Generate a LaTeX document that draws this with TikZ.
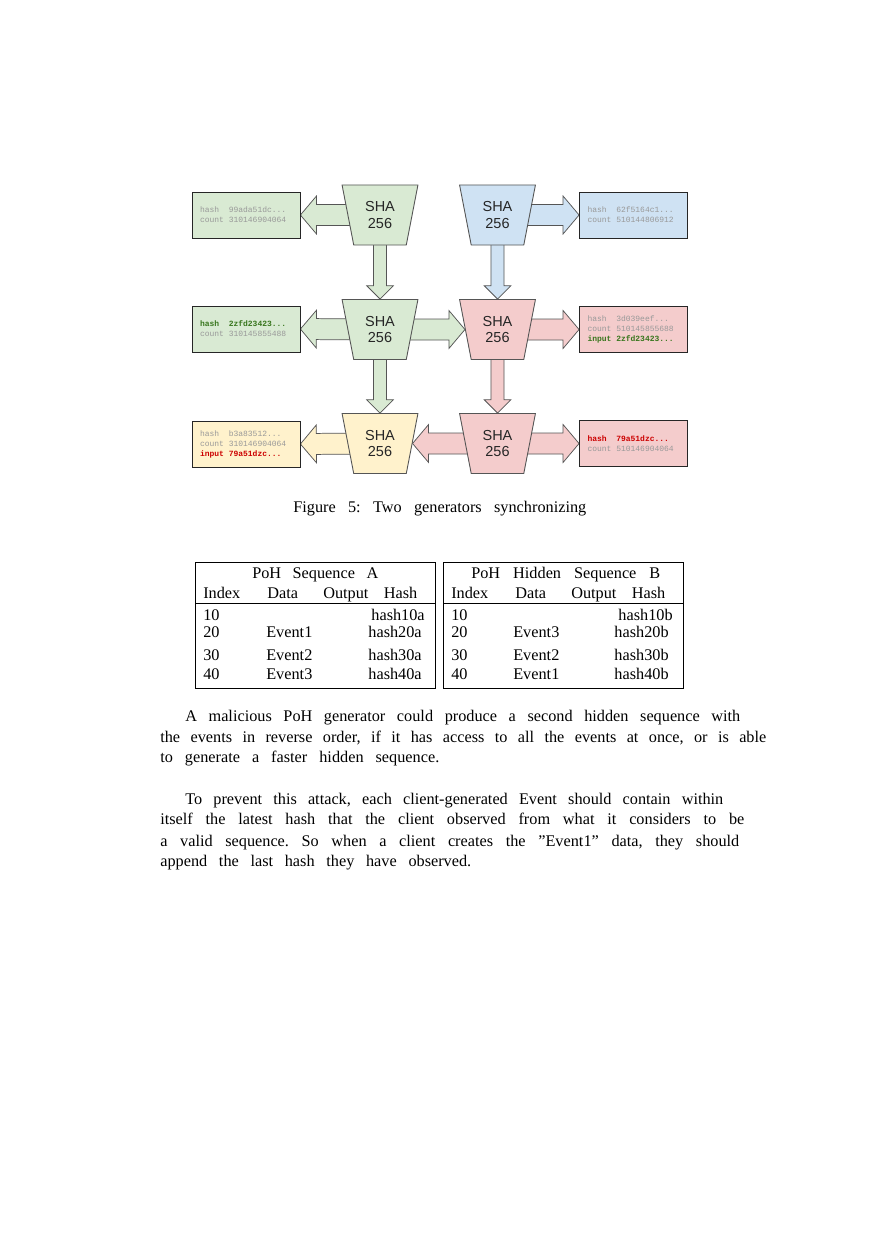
\documentclass[tikz,border=0pt]{standalone}
\usepackage{fontspec}
\setmainfont{Liberation Serif}
\setsansfont{Liberation Sans}
\setmonofont{Liberation Mono}
\usetikzlibrary{shapes.geometric,calc,backgrounds}

\definecolor{shagreen}{HTML}{D9EAD3}
\definecolor{shablue}{HTML}{CFE2F3}
\definecolor{shapink}{HTML}{F4CCCC}
\definecolor{shayellow}{HTML}{FFF2CC}
\definecolor{hashgray}{HTML}{999999}
\definecolor{hashgreen}{HTML}{38761D}
\definecolor{hashred}{HTML}{CC0000}
\definecolor{edgegray}{HTML}{555555}

\frenchspacing
% a line stretched to a width given in pixels
\newcommand{\pxline}[2]{\makebox[\dimexpr0.6761pt*#1\relax][s]{#2}}
\newcommand{\hl}[2]{{\bfseries\color{#1}#2}}
\newcommand{\msp}{\hspace*{0.6em}}
% block arrow: style, from, to, half shaft, half head, head length
\newcommand{\fatarrow}[6]{%
  \draw[#1] let \p1=($(#3)-(#2)$), \n1={atan2(\y1,\x1)}, \n2={veclen(\x1,\y1)} in
    [shift={(#2)}, rotate=\n1]
    (0pt,-#4) -- ({\n2-#6},-#4) -- ({\n2-#6},-#5) -- ({\n2},0pt)
    -- ({\n2-#6},#5) -- ({\n2-#6},#4) -- (0pt,#4) -- cycle;}
\newcommand{\harrow}[3]{\fatarrow{#1}{#2}{#3}{7.1pt}{12.8pt}{10.8pt}}
\newcommand{\varrow}[3]{\fatarrow{#1}{#2}{#3}{4.4pt}{9pt}{9pt}}

\begin{document}
\begin{tikzpicture}[x=0.6761pt,y=-0.6761pt,
  sha/.style={trapezium, trapezium stretches=true, shape border rotate=180,
    trapezium left angle=76, trapezium right angle=76,
    minimum width=51.4pt, minimum height=40.6pt, inner sep=0pt,
    draw=edgegray, line width=0.6pt, align=center, text=black!85,
    font=\sffamily\fontsize{9.8}{11}\selectfont},
  hashbox/.style={rectangle, draw=black!85, line width=0.6pt,
    minimum height=31.1pt, text width=62.2pt, inner xsep=5.4pt, inner ysep=0pt,
    align=left, text=hashgray, font=\ttfamily\fontsize{5.4}{6.8}\selectfont},
  blockarrow/.style={draw=edgegray, line width=0.5pt},
  txt/.style={anchor=base west, inner sep=0pt, font=\fontsize{11}{14}\selectfont},
  txtr/.style={txt, anchor=base east},
  tabline/.style={line width=0.5pt}]
\useasboundingbox (0,0) rectangle (880,1247);

% generators
\node[sha,fill=shagreen] (s1) at (380,215) {SHA\\256};
\node[sha,fill=shagreen] (s2) at (380,329.5) {SHA\\256};
\node[sha,fill=shayellow] (s3) at (380,443.5) {SHA\\256};
\node[sha,fill=shablue] (t1) at (497.5,215) {SHA\\256};
\node[sha,fill=shapink] (t2) at (497.5,329.5) {SHA\\256};
\node[sha,fill=shapink] (t3) at (497.5,443.5) {SHA\\256};

% outputs
\node[hashbox,fill=shagreen] (b1) at (246,215) {hash\msp\msp 99ada51dc...\\count\msp 310146904064};
\node[hashbox,fill=shagreen] (b2) at (246,329) {\hl{hashgreen}{hash\msp\msp 2zfd23423...}\\count\msp 310145855488};
\node[hashbox,fill=shayellow] (b3) at (246,444) {hash\msp\msp b3a83512...\\count\msp 310146904064\\\hl{hashred}{input\msp 79a51dzc...}};
\node[hashbox,fill=shablue] (c1) at (633.5,215) {hash\msp\msp 62f5164c1...\\count\msp 510144806912};
\node[hashbox,fill=shapink] (c2) at (633.5,329.5) {hash\msp\msp 3d039eef...\\count\msp 510145855688\\\hl{hashgreen}{input\msp 2zfd23423...}};
\node[hashbox,fill=shapink] (c3) at (633.5,443.5) {\hl{hashred}{hash\msp\msp 79a51dzc...}\\count\msp 510146904064};

\begin{scope}[on background layer]
\fill[white] (0,0) rectangle (880,1247);
\harrow{blockarrow,fill=shagreen}{s1.center}{b1.east}
\varrow{blockarrow,fill=shagreen}{s1.center}{s2.90}
\harrow{blockarrow,fill=shablue}{t1.center}{c1.west}
\varrow{blockarrow,fill=shablue}{t1.center}{t2.90}
\harrow{blockarrow,fill=shagreen}{s2.center}{b2.east}
\harrow{blockarrow,fill=shagreen}{s2.center}{t2.180}
\varrow{blockarrow,fill=shagreen}{s2.center}{s3.90}
\harrow{blockarrow,fill=shapink}{t2.center}{c2.west}
\varrow{blockarrow,fill=shapink}{t2.center}{t3.90}
\harrow{blockarrow,fill=shayellow}{s3.center}{b3.east}
\harrow{blockarrow,fill=shapink}{t3.center}{s3.0}
\harrow{blockarrow,fill=shapink}{t3.center}{c3.west}
\end{scope}

\node[txt] (cap) at (293,512) {\pxline{293}{Figure 5: Two generators synchronizing}};

% sequence A
\draw[tabline] (195,562) rectangle (435,688);
\draw[tabline] (195,603) -- (435,603);
\node[txt] (ta-title) at (252,578) {\pxline{126}{PoH Sequence A}};
\node[txt] (ta-index) at (203,598) {Index};
\node[txt] (ta-data) at (267,598) {Data};
\node[txt] (ta-out) at (323,598) {\pxline{94}{Output Hash}};
\node[txt] (ta-i1) at (203,620) {10};
\node[txtr] (ta-h1) at (425,620) {hash10a};
\node[txt] (ta-i2) at (203,637) {20};
\node[txt] (ta-d2) at (266,637) {Event1};
\node[txtr] (ta-h2) at (422,637) {hash20a};
\node[txt] (ta-i3) at (203,660) {30};
\node[txt] (ta-d3) at (266,660) {Event2};
\node[txtr] (ta-h3) at (422,660) {hash30a};
\node[txt] (ta-i4) at (203,679) {40};
\node[txt] (ta-d4) at (266,679) {Event3};
\node[txtr] (ta-h4) at (422,679) {hash40a};

% hidden sequence B
\draw[tabline] (443,562) rectangle (683,688);
\draw[tabline] (443,603) -- (683,603);
\node[txt] (tb-title) at (471,578) {\pxline{189}{PoH Hidden Sequence B}};
\node[txt] (tb-index) at (451,598) {Index};
\node[txt] (tb-data) at (515,598) {Data};
\node[txt] (tb-out) at (571,598) {\pxline{94}{Output Hash}};
\node[txt] (tb-i1) at (451,620) {10};
\node[txtr] (tb-h1) at (673,620) {hash10b};
\node[txt] (tb-i2) at (451,637) {20};
\node[txt] (tb-d2) at (513,637) {Event3};
\node[txtr] (tb-h2) at (669,637) {hash20b};
\node[txt] (tb-i3) at (451,660) {30};
\node[txt] (tb-d3) at (513,660) {Event2};
\node[txtr] (tb-h3) at (669,660) {hash30b};
\node[txt] (tb-i4) at (451,679) {40};
\node[txt] (tb-d4) at (513,679) {Event1};
\node[txtr] (tb-h4) at (669,679) {hash40b};

% text
\node[txt] (p1a) at (185,721) {\pxline{555}{A malicious PoH generator could produce a second hidden sequence with}};
\node[txt] (p1b) at (160,742) {\pxline{606}{the events in reverse order, if it has access to all the events at once, or is able}};
\node[txt] (p1c) at (160,762) {\pxline{279}{to generate a faster hidden sequence.}};
\node[txt] (p2a) at (185,804) {\pxline{538}{To prevent this attack, each client-generated Event should contain within}};
\node[txt] (p2b) at (160,824) {\pxline{584}{itself the latest hash that the client observed from what it considers to be}};
\node[txt] (p2c) at (160,846) {\pxline{579}{a valid sequence. So when a client creates the ”Event1” data, they should}};
\node[txt] (p2d) at (160,866) {\pxline{311}{append the last hash they have observed.}};
\end{tikzpicture}
\end{document}
